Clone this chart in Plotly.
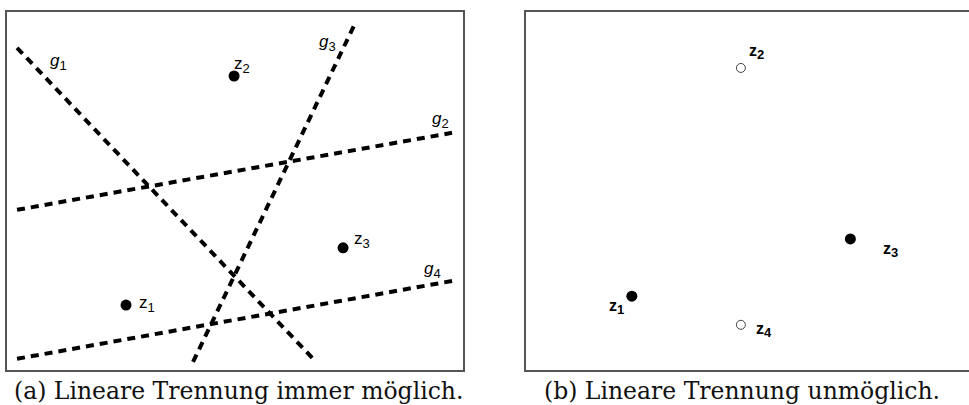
import plotly.graph_objects as go

W, H = 969, 405

# ---- data (left panel: four separating lines, three points) ----
g1_x = [2.2, 67.8]; g1_y = [72.0, 1.8]
g2_x = [2.2, 97.6]; g2_y = [35.8, 53.0]
g3_x = [40.8, 76.5]; g3_y = [1.8, 77.8]
g4_x = [2.2, 97.6]; g4_y = [2.5, 19.9]
g_names = ["1", "2", "3", "4"]
g_label_x = [9.0, 92.8, 68.0, 91.0]
g_label_y = [68.8, 55.9, 73.1, 22.3]

left_pts_x = [26.1, 49.8, 73.7]
left_pts_y = [14.5, 65.7, 27.3]
left_names = ["1", "2", "3"]
left_label_x = [28.5, 49.3, 75.7]
left_label_y = [14.8, 68.2, 29.1]

# ---- data (right panel: XOR-like configuration) ----
right_filled_x = [23.2, 71.1]
right_filled_y = [16.5, 29.3]
right_open_x = [47.1, 47.1]
right_open_y = [67.5, 10.1]
right_names = ["1", "2", "3", "4"]
right_label_x = [17.8, 48.5, 77.9, 50.0]
right_label_y = [14.1, 71.1, 26.8, 8.9]

captions = ["(a) Lineare Trennung immer möglich.", "(b) Lineare Trennung unmöglich."]

fig = go.Figure()
dash = "8px,6px"
for gx, gy in [(g1_x, g1_y), (g2_x, g2_y), (g3_x, g3_y), (g4_x, g4_y)]:
    fig.add_trace(go.Scatter(x=gx, y=gy, mode="lines", xaxis="x", yaxis="y",
                             line=dict(color="black", width=4, dash=dash),
                             showlegend=False, hoverinfo="skip"))

fig.add_trace(go.Scatter(x=left_pts_x, y=left_pts_y, mode="markers", xaxis="x", yaxis="y",
                         marker=dict(color="black", size=11), showlegend=False))
fig.add_trace(go.Scatter(x=right_filled_x, y=right_filled_y, mode="markers", xaxis="x2", yaxis="y2",
                         marker=dict(color="black", size=11), showlegend=False))
fig.add_trace(go.Scatter(x=right_open_x, y=right_open_y, mode="markers", xaxis="x2", yaxis="y2",
                         marker=dict(color="white", size=9, line=dict(color="#444", width=1)),
                         showlegend=False))

ann = []
sans = "Liberation Sans"
sub = '<sub><span style="font-size:13px">{}</span></sub>'
for n, x, y in zip(g_names, g_label_x, g_label_y):
    ann.append(dict(x=x, y=y, xref="x", yref="y", xanchor="left", yanchor="middle",
                    text="<i>g</i>" + sub.format(n), showarrow=False,
                    font=dict(family=sans, size=17, color="black")))
for n, x, y in zip(left_names, left_label_x, left_label_y):
    ann.append(dict(x=x, y=y, xref="x", yref="y", xanchor="left", yanchor="middle",
                    text="z" + sub.format(n), showarrow=False,
                    font=dict(family=sans, size=17, color="black")))
for n, x, y in zip(right_names, right_label_x, right_label_y):
    ann.append(dict(x=x, y=y, xref="x2", yref="y2", xanchor="left", yanchor="middle",
                    text="<b>z</b>" + sub.format("<b>" + n + "</b>"), showarrow=False,
                    font=dict(family=sans, size=16, color="black")))
for cap, cx in zip(captions, [238 / W, 742 / W]):
    ann.append(dict(x=cx, y=14 / H, xref="paper", yref="paper", xanchor="center", yanchor="middle",
                    text=cap, showarrow=False,
                    font=dict(family="DejaVu Serif", size=23.5, color="#111")))

ax_common = dict(showgrid=False, zeroline=False, showticklabels=False, ticks="",
                 linecolor="#555", linewidth=1.5, fixedrange=True)
ydom = [35 / H, 393 / H]
fig.update_layout(
    width=W, height=H, margin=dict(l=0, r=0, t=0, b=0),
    paper_bgcolor="white", plot_bgcolor="white",
    xaxis=dict(domain=[7 / W, 463 / W], range=[0, 100], showline=True, mirror=True, **ax_common),
    yaxis=dict(domain=ydom, range=[0, 80], showline=True, mirror=True, **ax_common),
    xaxis2=dict(domain=[526 / W, 1], range=[0, 97.1], showline=True, mirror=True, anchor="y2", **ax_common),
    yaxis2=dict(domain=ydom, range=[0, 80], showline=True, mirror=False, anchor="x2", **ax_common),
    annotations=ann,
)
fig.write_html("out.html", config={"displayModeBar": False},
               post_script="document.body.style.margin='0px';document.body.style.overflow='hidden';")
